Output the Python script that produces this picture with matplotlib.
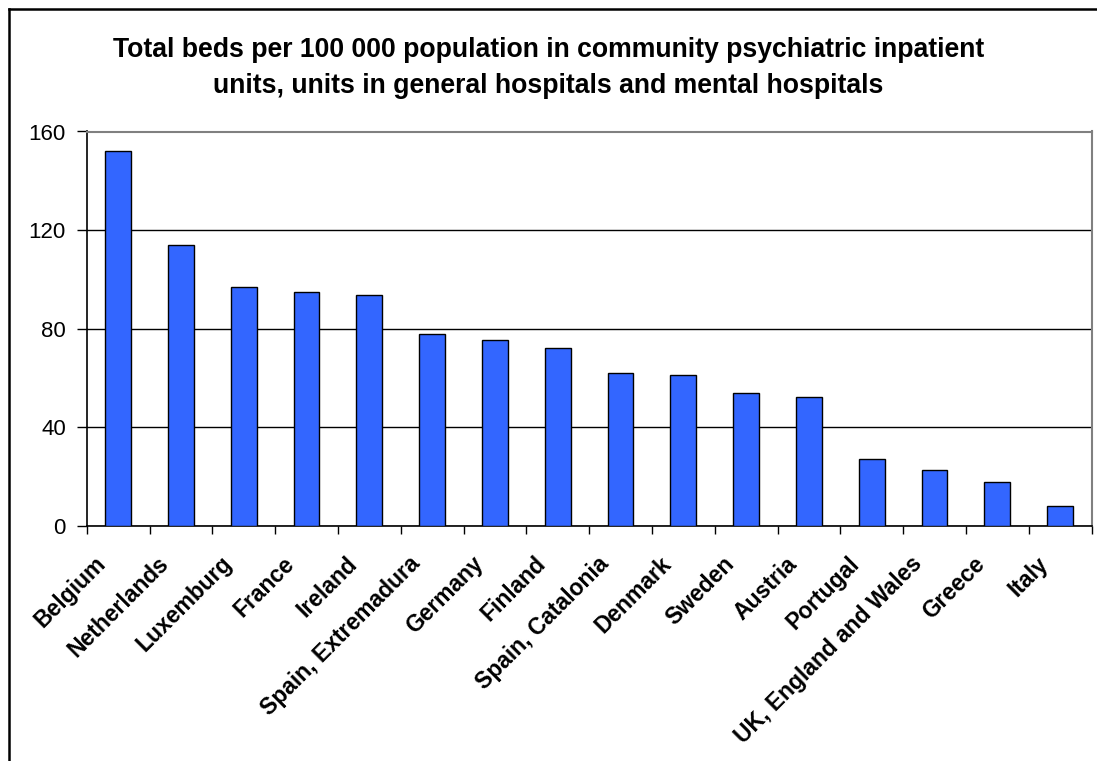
import matplotlib.pyplot as plt
import numpy as np
from matplotlib.lines import Line2D
from matplotlib.transforms import ScaledTranslation

# Beds per 100 000 population, by country
countries = ['Belgium', 'Netherlands', 'Luxemburg', 'France', 'Ireland',
             'Spain, Extremadura', 'Germany', 'Finland', 'Spain, Catalonia',
             'Denmark', 'Sweden', 'Austria', 'Portugal',
             'UK, England and Wales', 'Greece', 'Italy']
beds = [152, 114, 97, 95, 93.6, 78, 75.2, 72.2, 61.8, 61.1, 53.7, 52.3, 27, 22.7, 17.6, 8]
y_ticks = [0, 40, 80, 120, 160]

plt.rcParams['font.family'] = ['Liberation Sans', 'DejaVu Sans']

fig = plt.figure(figsize=(10.97, 7.61), dpi=100)
W, H = 1097, 761
ax = fig.add_axes([86.7 / W, 1 - 525.7 / H, (1091.5 - 86.7) / W, (525.7 - 131.5) / H])

x = np.arange(len(countries))
ax.bar(x, beds, width=0.41, color='#3366FF', edgecolor='black', linewidth=1.0, zorder=3)

ax.set_xlim(-0.5, len(countries) - 0.5)
ax.set_ylim(0, 160)
ax.set_yticks(y_ticks)
ax.set_yticklabels([str(v) for v in y_ticks], fontsize=16)
ax.yaxis.grid(True, color='black', linewidth=1.0, zorder=0)
ax.tick_params(axis='y', direction='out', length=7, width=1, pad=8)

# category labels at bar centres, tick marks at category boundaries
ax.set_xticks(x)
ax.set_xticklabels(countries, rotation=45, ha='right', va='top',
                   rotation_mode='anchor', fontsize=16.5, fontweight='bold')
ax.tick_params(axis='x', which='major', length=0, pad=19)
ax.set_xticks(np.arange(-0.5, len(countries)), minor=True)
ax.tick_params(axis='x', which='minor', direction='out', length=6, width=1)

# nudge the slanted labels a little left
shift = ScaledTranslation(-17 / 72, 0, fig.dpi_scale_trans)
for label in ax.get_xticklabels():
    label.set_transform(label.get_transform() + shift)

for side in ['left', 'bottom']:
    ax.spines[side].set_color('black')
    ax.spines[side].set_linewidth(1.2)
for side in ['top', 'right']:
    ax.spines[side].set_color('#808080')
    ax.spines[side].set_linewidth(1.5)

fig.text(0.5, 1 - 68 / H,
         'Total beds per 100 000 population in community psychiatric inpatient\n'
         'units, units in general hospitals and mental hospitals',
         ha='center', va='center', fontsize=19.2, fontweight='bold', linespacing=1.5)

# outer chart frame (top and left edges)
fig.add_artist(Line2D([8.5 / W, 1.0], [1 - 8.5 / H, 1 - 8.5 / H],
                      transform=fig.transFigure, color='black', linewidth=1.8))
fig.add_artist(Line2D([8.5 / W, 8.5 / W], [0.0, 1 - 8.5 / H],
                      transform=fig.transFigure, color='black', linewidth=1.8))

fig.savefig('out.png', dpi=100)
